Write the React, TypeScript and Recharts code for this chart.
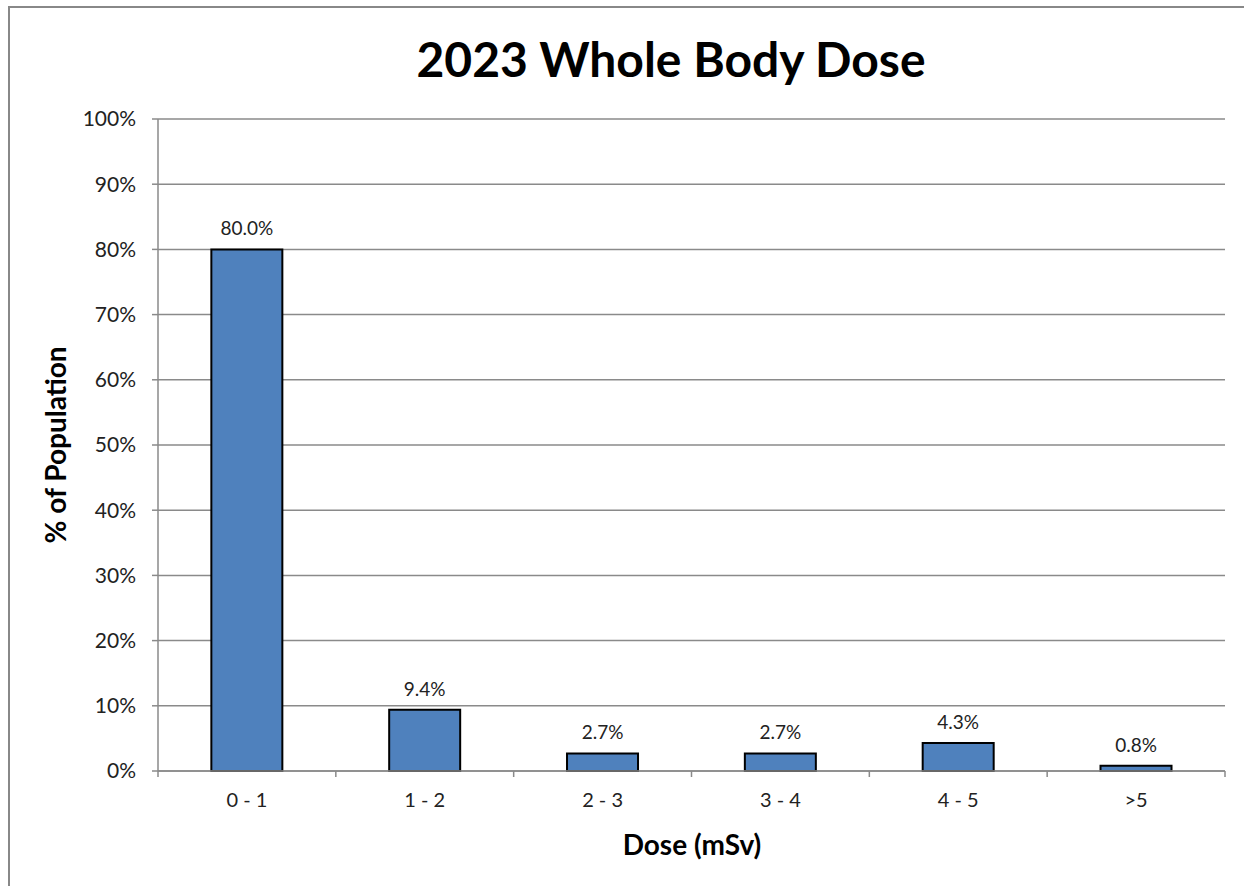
import { BarChart, Bar, XAxis, YAxis, CartesianGrid, LabelList } from "recharts";

const doseBands = ["0 - 1", "1 - 2", "2 - 3", "3 - 4", "4 - 5", ">5"];
const populationPct = [80.0, 9.4, 2.7, 2.7, 4.3, 0.8];
const yTicks = [0, 10, 20, 30, 40, 50, 60, 70, 80, 90, 100];

const title = "2023 Whole Body Dose";
const xTitle = "Dose (mSv)";
const yTitle = "% of Population";

const FONT = "Lato, 'Noto Sans', sans-serif";
const GRID = "#8a8a8a";
const X_TICK_SIZE = 6;
const X_TICK_MARGIN = 16;

// Excel puts the x tick marks between categories, not under them
function BandTick(props: any) {
  const { x, y, payload, index, visibleTicksCount } = props;
  const half = payload?.offset ?? 0;
  const axisY = y - X_TICK_SIZE - X_TICK_MARGIN;
  const last = index === visibleTicksCount - 1;
  return (
    <g>
      <line x1={x - half} x2={x - half} y1={axisY} y2={axisY + X_TICK_SIZE} stroke={GRID} strokeWidth={1.5} />
      {last && (
        <line x1={x + half} x2={x + half} y1={axisY} y2={axisY + X_TICK_SIZE} stroke={GRID} strokeWidth={1.5} />
      )}
      <text x={x} y={y} dy="0.71em" textAnchor="middle" fill="#222" fontSize={20} fontFamily={FONT}>
        {payload.value}
      </text>
    </g>
  );
}

export default function App() {
  const data = doseBands.map((band, i) => ({ band, pct: populationPct[i] }));

  return (
    <div style={{ position: "relative", width: 1244, height: 886, overflow: "hidden", background: "#fff" }}>
      <style>{`body{margin:0;overflow:hidden}`}</style>
      <div
        style={{
          position: "absolute",
          left: 8,
          top: 6,
          width: 1300,
          height: 1000,
          borderLeft: "2px solid #888",
          borderTop: "2px solid #888",
        }}
      />
      <div style={{ position: "absolute", left: 0, top: 0 }}>
        <BarChart
          width={1244}
          height={886}
          data={data}
          margin={{ top: 119, right: 19, left: 0, bottom: 55 }}
          barCategoryGap="30%"
        >
          <CartesianGrid vertical={false} stroke={GRID} strokeWidth={1.5} />
          <XAxis
            dataKey="band"
            axisLine={{ stroke: GRID, strokeWidth: 1.5 }}
            tickLine={false}
            tickSize={X_TICK_SIZE}
            tickMargin={X_TICK_MARGIN}
            height={60}
            interval={0}
            tick={<BandTick />}
          />
          <YAxis
            domain={[0, 100]}
            ticks={yTicks}
            tickFormatter={(v: number) => `${v}%`}
            width={158}
            axisLine={{ stroke: GRID, strokeWidth: 1.5 }}
            tickLine={{ stroke: GRID, strokeWidth: 1.5 }}
            tickSize={6}
            tickMargin={16}
            tick={{ fill: "#222", fontSize: 21, fontFamily: FONT }}
          />
          <Bar dataKey="pct" fill="#4f81bd" stroke="#000" strokeWidth={2} isAnimationActive={false}>
            <LabelList
              dataKey="pct"
              position="top"
              offset={14}
              formatter={(v: any) => `${Number(v).toFixed(1)}%`}
              style={{ fill: "#222", fontSize: 19, fontFamily: FONT }}
            />
          </Bar>
        </BarChart>
      </div>
      <svg width={1244} height={886} style={{ position: "absolute", left: 0, top: 0, pointerEvents: "none" }}>
        <text x={671} y={77} textAnchor="middle" fontFamily={FONT} fontWeight="bold" fontSize={48} fill="#000">
          {title}
        </text>
        <text x={692} y={855} textAnchor="middle" fontFamily={FONT} fontWeight="bold" fontSize={28} fill="#000">
          {xTitle}
        </text>
        <text
          x={0}
          y={0}
          transform="translate(66 445) rotate(-90)"
          textAnchor="middle"
          fontFamily={FONT}
          fontWeight="bold"
          fontSize={28}
          fill="#000"
        >
          {yTitle}
        </text>
      </svg>
    </div>
  );
}
